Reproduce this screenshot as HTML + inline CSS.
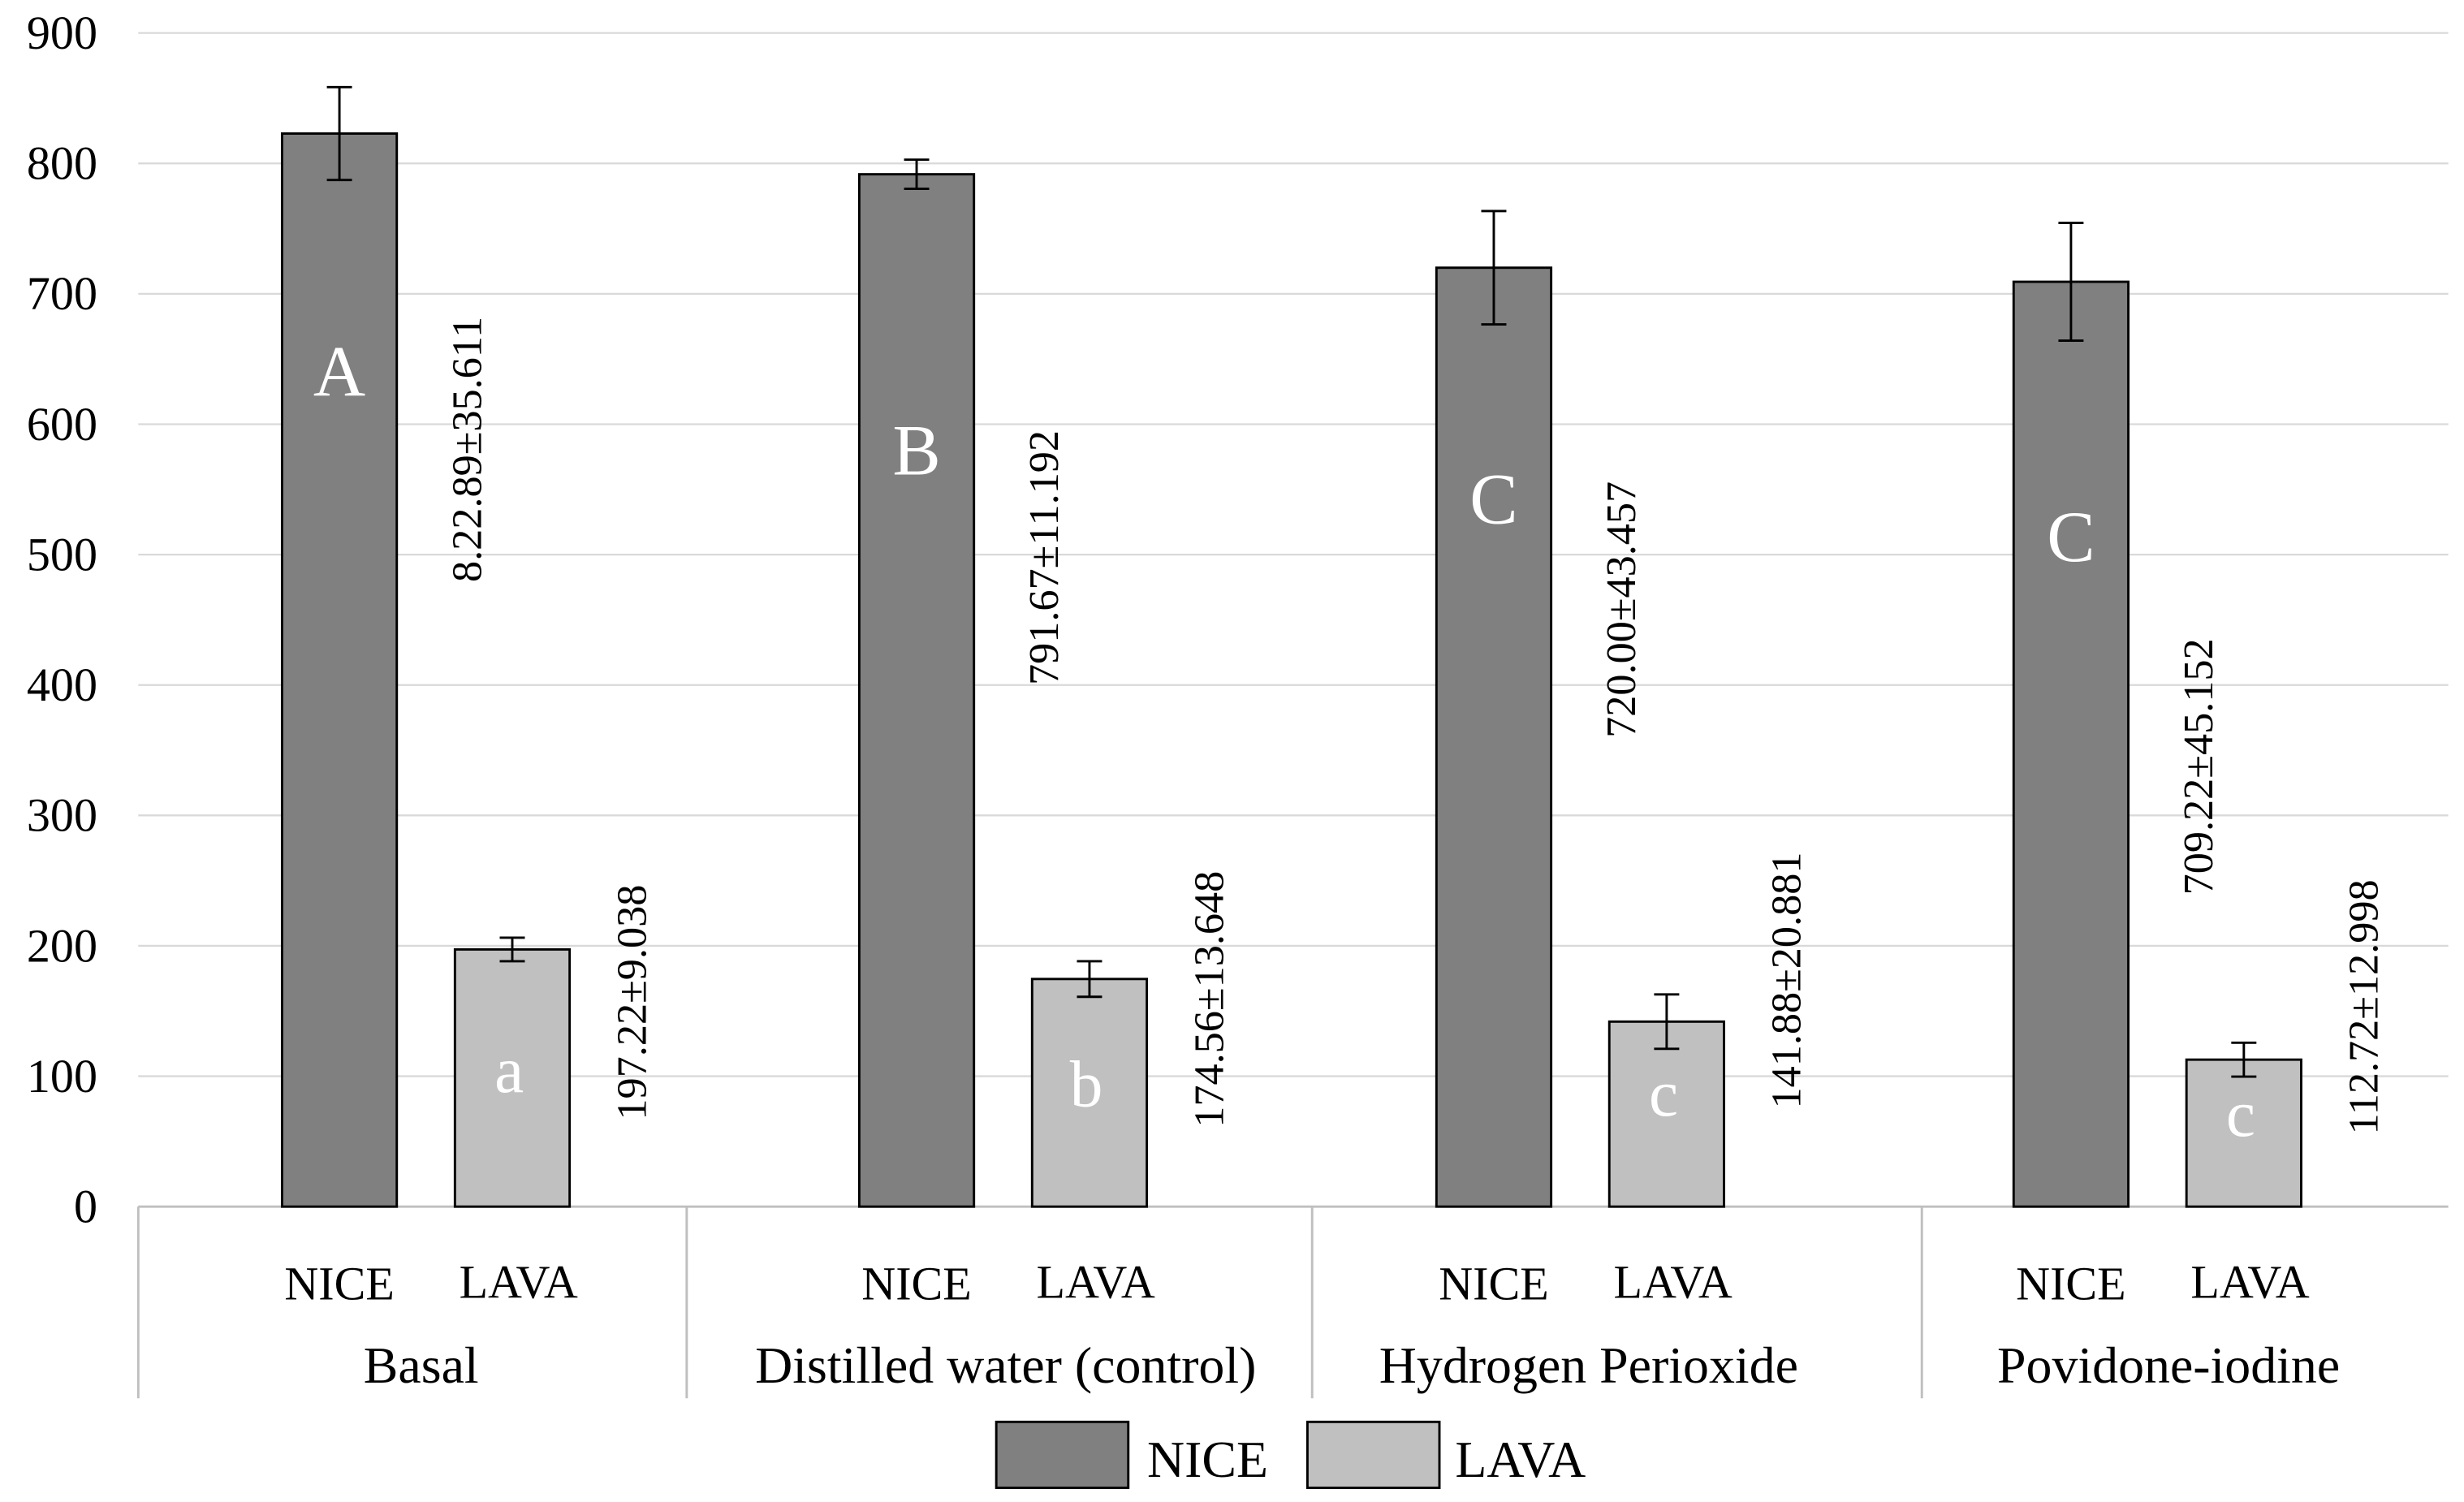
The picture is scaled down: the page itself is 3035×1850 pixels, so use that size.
<!DOCTYPE html>
<html><head><meta charset="utf-8"><style>
html,body{margin:0;padding:0;background:#fff}
svg{display:block}
text{font-family:"Liberation Serif",serif}
</style></head><body>
<svg id="chart" width="3035" height="1850" viewBox="0 0 1568 956" preserveAspectRatio="none" xmlns="http://www.w3.org/2000/svg"></svg>
<script>
const categories=["Basal","Distilled water (control)","Hydrogen Perioxide","Povidone-iodine"];
const seriesNames=["NICE","LAVA"];
const niceValues=[822.89,791.67,720.00,709.22];
const niceErrors=[35.611,11.192,43.457,45.152];
const lavaValues=[197.22,174.56,141.88,112.72];
const lavaErrors=[9.038,13.648,20.881,12.998];
const niceLabels=["8.22.89±35.611","791.67±11.192","720.00±43.457","709.22±45.152"];
const lavaLabels=["197.22±9.038","174.56±13.648","141.88±20.881","112.72±12.998"];
const niceLetters=["A","B","C","C"];
const lavaLetters=["a","b","c","c"];
const yTicks=[0,100,200,300,400,500,600,700,800,900];

const svg=document.getElementById('chart');
const NS="http://www.w3.org/2000/svg";
const y0=768,yTop=21,xL=88,xR=1558;
const y=v=>y0-(v/900)*(y0-yTop);
const gx=i=>216+i*367.3;
function el(t,a,txt){const e=document.createElementNS(NS,t);for(const k in a)e.setAttribute(k,a[k]);if(txt!==undefined)e.textContent=txt;svg.appendChild(e);return e;}

yTicks.forEach(t=>{
 if(t>0){const g=el('line',{x1:xL,x2:xR,y1:y(t),y2:y(t),stroke:'#d9d9d9','stroke-width':1.2});
 
 }
 const l=el('text',{x:62,y:y(t)+10,'font-size':30,'text-anchor':'end',fill:'#000'},t);
 
 
});
const ax=el('line',{x1:xL,x2:xR,y1:y0,y2:y0,stroke:'#bfbfbf','stroke-width':1.5});


[88,437,835,1223].forEach(sx=>{
 const s=el('line',{x1:sx,x2:sx,y1:y0,y2:890,stroke:'#bfbfbf','stroke-width':1.5});
 
 
});
const bw=73;
const niceLabelY=[286,355,388,488];
const lavaLabelY=[638,636,624,641];
const niceLetterY=[252,302,333,357];
const lavaLetterY=[695,704,710,723];
function bar(cx,v,e,fill,name){
 const r=el('rect',{x:cx-bw/2,y:y(v),width:bw,height:y0-y(v),fill:fill,stroke:'#000','stroke-width':1.5});
 
 
 const eb=el('path',{d:`M${cx},${y(v+e)}V${y(v-e)}M${cx-8},${y(v+e)}H${cx+8}M${cx-8},${y(v-e)}H${cx+8}`,stroke:'#000','stroke-width':1.5,fill:'none'});
 
 
}
categories.forEach((c,i)=>{
 const nx=gx(i),lx=nx+110;
 bar(nx,niceValues[i],niceErrors[i],'#808080','bar-nice-'+i);
 bar(lx,lavaValues[i],lavaErrors[i],'#c0c0c0','bar-lava-'+i);
 const a=el('text',{x:nx,y:niceLetterY[i],'font-size':46,fill:'#fff','text-anchor':'middle'},niceLetters[i]);
 
 
 const b=el('text',{x:lx-2,y:lavaLetterY[i],'font-size':42,fill:'#fff','text-anchor':'middle'},lavaLetters[i]);
 
 
 const tn=el('text',{x:0,y:0,'font-size':27,'text-anchor':'middle',transform:`translate(${nx+90},${niceLabelY[i]}) rotate(-90)`},niceLabels[i]);
 
 
 const tl=el('text',{x:0,y:0,'font-size':27,'text-anchor':'middle',transform:`translate(${lx+85},${lavaLabelY[i]}) rotate(-90)`},lavaLabels[i]);
 
 
 const s1=el('text',{x:nx,y:827,'font-size':30,'text-anchor':'middle'},'NICE');
 
 
 const s2=el('text',{x:lx+4,y:826,'font-size':30,'text-anchor':'middle'},'LAVA');
 
 
});
[268,640,1011,1380].forEach((cx,i)=>{
 const t=el('text',{x:cx,y:880,'font-size':33,'text-anchor':'middle'},categories[i]);
 
 
});
const lg=[[634,730,'#808080'],[832,926,'#c0c0c0']];
lg.forEach((l,i)=>{
 const r=el('rect',{x:l[0],y:905,width:84,height:42,fill:l[2],stroke:'#000','stroke-width':1.5});
 
 
 const t=el('text',{x:l[1],y:940,'font-size':33},seriesNames[i]);
 
 
});
</script>
</body></html>
